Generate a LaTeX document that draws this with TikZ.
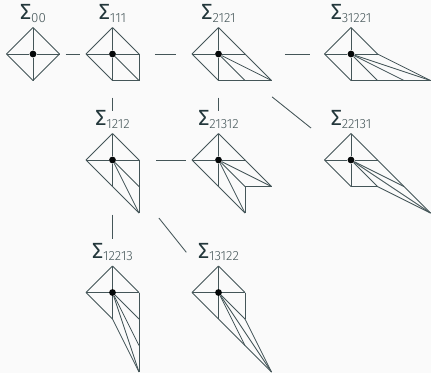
\documentclass[tikz,border=0pt]{standalone}
\usepackage{fontspec}
\setmainfont{Fira Sans}
\newfontfamily\fanlight{Fira Sans Light}
\usepackage{xcolor}
\usetikzlibrary{positioning}
\definecolor{fandark}{HTML}{23373B}
\definecolor{fanback}{HTML}{FAFAFA}
\newcommand{\fan}[2]{%
  \begin{scope}[shift={(#1)},x=7mm,y=7mm]
    \foreach \i/\j [remember=\i as \lastx (initially -1),remember=\j as \lasty (initially 0)] in {#2} {
      \draw[fanline] (#1) -- (\i,\j);
      \draw[fanline,line join=round] (\lastx,\lasty) -- (\i,\j);
    }
  \end{scope}}
\newcommand{\fanname}[2]{\node[fanlabel,above=9.1mm of #1,anchor=base] (#1l) {\fontsize{16.5}{16}\selectfont Σ\fanlight\fontsize{10}{10}\selectfont\color{fandark!85}\raisebox{-0.7mm}{#2}};}

\begin{document}
\begin{tikzpicture}[
    on grid,
    ray/.style={circle,fill=black!85!fandark,inner sep=0pt,minimum size=1.8mm},
    fanline/.style={draw=fandark!85,line width=0.65pt},
    link/.style={draw=fandark!85,line width=0.65pt},
    fanlabel/.style={text=fandark,inner sep=0pt}
  ]
    \useasboundingbox[fill=fanback] (0,0) rectangle (11.385,9.854);
    \node[ray] (f00) at (0.872,8.427) {};
    \node[ray,right=21mm of f00] (f111) {};
    \node[ray,right=28mm of f111] (f2121) {};
    \node[ray,right=35mm of f2121] (f31221) {};
    \node[ray,below=28mm of f111] (f1212) {};
    \node[ray,below=28mm of f2121] (f21312) {};
    \node[ray,below=28mm of f31221] (f22131) {};
    \node[ray,below=35mm of f1212] (f12213) {};
    \node[ray,below=35mm of f21312] (f13122) {};
    \fan{f00}{0/1,1/0,0/-1,-1/0}
    \fan{f111}{0/1,1/0,1/-1,0/-1,-1/0}
    \fan{f2121}{0/1,1/0,2/-1,1/-1,0/-1,-1/0}
    \fan{f31221}{0/1,1/0,3/-1,2/-1,1/-1,0/-1,-1/0}
    \fan{f1212}{0/1,1/0,1/-1,1/-2,0/-1,-1/0}
    \fan{f21312}{0/1,1/0,2/-1,1/-1,1/-2,0/-1,-1/0}
    \fan{f22131}{0/1,1/0,2/-1,3/-2,1/-1,0/-1,-1/0}
    \fan{f12213}{0/1,1/0,1/-1,1/-2,1/-3,0/-1,-1/0}
    \fan{f13122}{0/1,1/0,1/-1,2/-3,1/-2,0/-1,-1/0}
    \fanname{f00}{00}
    \fanname{f111}{111}
    \fanname{f2121}{2121}
    \fanname{f31221}{31221}
    \fanname{f1212}{1212}
    \fanname{f21312}{21312}
    \fanname{f22131}{22131}
    \fanname{f12213}{12213}
    \fanname{f13122}{13122}
    \draw[link,shorten <=7.65mm,shorten >=7.65mm] (f00) -- (f111);
    \draw[link,shorten <=10.25mm,shorten >=10.25mm] (f111) -- (f2121);
    \draw[link,shorten <=16.55mm,shorten >=9.85mm] (f2121) -- (f31221);
    \draw[link,shorten <=10.55mm,shorten >=11.85mm] (f111) -- (f1212);
    \draw[link,shorten <=10.55mm,shorten >=11.85mm] (f2121) -- (f21312);
    \draw[link,shorten <=17.15mm,shorten >=12.55mm] (f2121) -- (f22131);
    \draw[link,shorten <=10.55mm,shorten >=7.65mm] (f1212) -- (f21312);
    \draw[link,shorten <=13.45mm,shorten >=13.15mm] (f1212) -- (f12213);
    \draw[link,shorten <=18.65mm,shorten >=12.65mm] (f1212) -- (f13122);
  \end{tikzpicture}
\end{document}
